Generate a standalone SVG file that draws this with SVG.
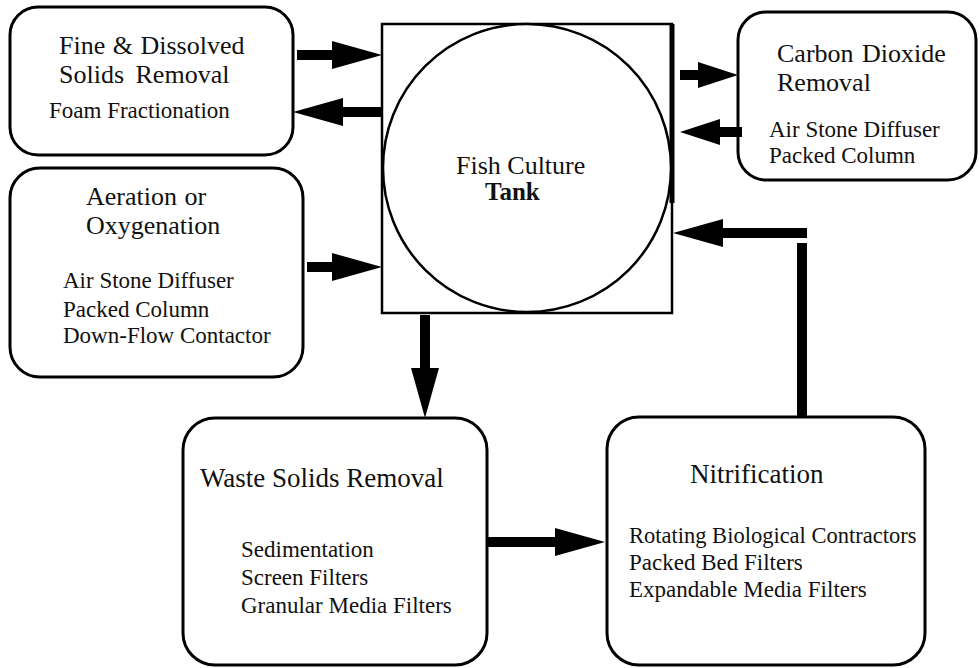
<svg xmlns="http://www.w3.org/2000/svg" width="980" height="668" viewBox="0 0 980 668">
<style>
  .box{fill:#fff;stroke:#000;stroke-width:3}
  .tank{fill:#fff;stroke:#000;stroke-width:2.5}
  text{font-family:"Liberation Serif","Times New Roman",serif;fill:#111}
  .t{font-size:27px}
  .t2{font-size:26px}
  .s{font-size:23px}
  .b{font-size:25px;font-weight:bold}
  .c{fill:none;stroke:#000;stroke-width:10;stroke-linecap:butt}
</style>
<defs>
  <marker id="ah" markerUnits="userSpaceOnUse" markerWidth="50" markerHeight="28" refX="0" refY="14" orient="auto" viewBox="0 0 50 28">
    <path d="M0,0 L50,14 L0,28 z" fill="#000"/>
  </marker>
  <marker id="ahs" markerUnits="userSpaceOnUse" markerWidth="40" markerHeight="26" refX="0" refY="13" orient="auto" viewBox="0 0 40 26">
    <path d="M0,0 L40,13 L0,26 z" fill="#000"/>
  </marker>
</defs>
<rect width="980" height="668" fill="#fff"/>

<g id="tank">
  <rect class="tank" x="382" y="24" width="290" height="289"/>
  <line x1="672" y1="24" x2="672" y2="203" stroke="#000" stroke-width="5"/>
  <circle class="tank" cx="527" cy="168" r="144"/>
  <text x="456" y="174" style="font-size:26px">Fish Culture</text>
  <text class="b" x="485" y="200">Tank</text>
</g>

<g id="fine-solids">
  <rect class="box" x="10" y="7" width="283" height="148" rx="28"/>
  <text class="t2" x="59" y="54" word-spacing="1">Fine &amp; Dissolved</text>
  <text class="t2" x="59" y="83" word-spacing="5">Solids Removal</text>
  <text class="s" x="49" y="118">Foam Fractionation</text>
</g>

<g id="aeration">
  <rect class="box" x="10" y="168" width="293" height="209" rx="30"/>
  <text class="t2" x="86" y="205" word-spacing="1">Aeration or</text>
  <text class="t2" x="86" y="234">Oxygenation</text>
  <text class="s" x="63" y="288">Air Stone Diffuser</text>
  <text class="s" x="63" y="317">Packed Column</text>
  <text class="s" x="63" y="343">Down-Flow Contactor</text>
</g>

<g id="co2">
  <rect class="box" x="738" y="12" width="238" height="168" rx="28"/>
  <text class="t2" x="777" y="62" word-spacing="2">Carbon Dioxide</text>
  <text class="t2" x="777" y="91">Removal</text>
  <text class="s" x="769" y="137">Air Stone Diffuser</text>
  <text class="s" x="769" y="163">Packed Column</text>
</g>

<g id="waste-solids">
  <rect class="box" x="183" y="418" width="304" height="247" rx="32"/>
  <text class="t" x="200" y="487">Waste Solids Removal</text>
  <text class="s" x="241" y="557">Sedimentation</text>
  <text class="s" x="241" y="585">Screen Filters</text>
  <text class="s" x="241" y="613">Granular Media Filters</text>
</g>

<g id="nitrification">
  <rect class="box" x="607" y="417" width="318" height="248" rx="32"/>
  <text class="t" x="690" y="483">Nitrification</text>
  <text class="s" x="629" y="543" style="font-size:22.5px">Rotating Biological Contractors</text>
  <text class="s" x="629" y="570">Packed Bed Filters</text>
  <text class="s" x="629" y="597">Expandable Media Filters</text>
</g>

<g id="connectors">
  <path class="c" d="M297,55 H332" marker-end="url(#ah)"/>
  <path class="c" d="M382,112 H343" marker-end="url(#ah)"/>
  <path class="c" d="M307,267 H332" marker-end="url(#ah)"/>
  <path class="c" d="M680,75 H698" marker-end="url(#ahs)"/>
  <path class="c" d="M742,132 H720" marker-end="url(#ahs)"/>
  <path class="c" d="M425,315 V368" marker-end="url(#ah)"/>
  <path class="c" d="M487,542 H555" marker-end="url(#ah)"/>
  <path class="c" d="M802,417 V243"/>
  <path class="c" d="M807,233 H723" stroke-width="12" marker-end="url(#ah)"/>
</g>
</svg>
